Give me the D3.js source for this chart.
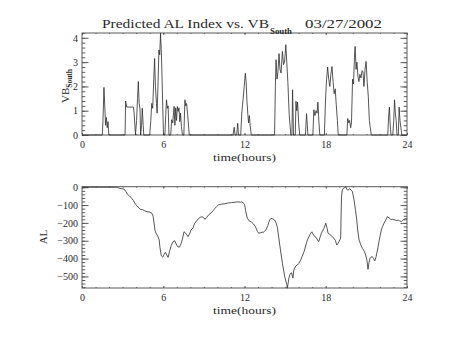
<!DOCTYPE html>
<html>
<head>
<meta charset="utf-8">
<script src="https://cdn.jsdelivr.net/npm/d3@7"></script>
<style>
  html, body { margin: 0; padding: 0; background: #fff; }
  svg { display: block; }
  text { font-family: "Liberation Serif", "DejaVu Serif", serif; fill: #2a2a2a; }
</style>
</head>
<body>
<svg id="chart" width="453" height="340"></svg>
<script>
// VB South (nT) against time of day
const vbHours = [
  0, 1.5, 1.55, 1.62, 1.68, 1.74, 1.8, 1.86, 1.92, 1.98,
  3.18, 3.22, 3.3, 3.8, 3.85, 3.95, 4.03, 4.1, 4.16, 4.22, 4.28, 4.33, 4.4, 4.45, 4.52, 4.56,
  5.0, 5.08, 5.15, 5.22, 5.3, 5.36, 5.42, 5.5, 5.55, 5.62, 5.68, 5.74, 5.8, 5.86, 5.9, 5.96, 6.02,
  6.12, 6.18, 6.24, 6.3, 6.36, 6.42, 6.55, 6.62, 6.7, 6.8, 6.86, 6.92, 6.98, 7.04, 7.1, 7.16,
  7.22, 7.28, 7.34, 7.42, 7.52, 7.6, 7.66, 7.72, 7.8, 7.92,
  11.15, 11.24, 11.3, 11.42, 11.5, 11.56, 11.72, 11.8, 11.9, 11.98, 12.06, 12.12, 12.18, 12.24,
  12.3, 12.36, 12.42, 12.5,
  14.22, 14.28, 14.33, 14.4, 14.47, 14.55, 14.62, 14.7, 14.8, 14.88, 14.96, 15.05, 15.12, 15.2,
  15.3, 15.42, 15.5, 15.55, 15.62, 15.75, 15.8, 15.86, 15.92, 16.0, 16.08,
  16.5, 16.58, 16.64, 16.68, 17.05, 17.12, 17.2, 17.28, 17.36, 17.42, 17.5, 17.56,
  17.9, 17.98, 18.06, 18.14, 18.22, 18.3, 18.38, 18.46, 18.54, 18.62, 18.7, 18.78, 18.86, 18.92,
  19.56, 19.62, 19.7, 19.76, 19.84, 19.9, 19.98, 20.05, 20.12, 20.17, 20.24, 20.3, 20.38, 20.45,
  20.52, 20.6, 20.68, 20.75, 20.82, 20.9, 20.98, 21.06, 21.14, 21.22, 21.28, 21.36,
  22.58, 22.64, 22.7, 22.76, 22.82, 22.95, 23.02, 23.08, 23.14, 23.2, 23.26, 23.36, 23.42, 23.48,
  23.55, 23.62, 24
];
const vbValues = [
  0, 0, 0.6, 1.96, 1.2, 0.4, 0.72, 0.3, 0.55, 0,
  0, 1.4, 1.15, 1.15, 0.9, 0, 0.6, 1.5, 2.2, 1.3, 1.1, 0, 0.4, 1.1, 0.4, 0,
  0, 0.6, 1.3, 1.1, 2.3, 3.15, 2.0, 1.3, 0.9, 2.2, 3.5, 3.3, 4.2, 3.4, 2.6, 1.2, 0,
  0, 0.8, 1.45, 1.1, 1.2, 0, 0, 0.63, 0.5, 1.18, 0.4, 1.12, 0.6, 1.17, 0.97, 1.12,
  0.55, 0.9, 0.35, 0, 0, 1.45, 1.2, 1.3, 0.85, 0,
  0, 0.32, 0, 0, 0.48, 0, 0, 0.9, 1.5, 2.0, 2.54, 2.2, 1.4, 0.9,
  0.5, 0.8, 0.4, 0,
  0, 2.0, 3.1, 2.3, 2.6, 3.35, 2.7, 2.55, 3.44, 2.9, 3.0, 3.72, 3.0, 2.2,
  0.84, 0, 0, 1.86, 0, 0, 1.39, 1.0, 1.35, 0.5, 0,
  0, 0.88, 0.4, 0, 0, 1.04, 0.8, 1.0, 0.9, 1.35, 0.5, 0,
  0, 1.4, 2.3, 2.8, 2.3, 2.0, 2.5, 2.82, 2.2, 1.7, 1.9, 1.2, 0.6, 0,
  0, 0.68, 0.5, 0.6, 0.3, 0.5, 2.3, 2.1, 3.2, 3.65, 2.7, 3.0, 2.4, 2.2,
  2.5, 2.35, 2.65, 2.6, 2.0, 2.7, 3.03, 2.2, 1.6, 0.6, 0.35, 0,
  0, 0.77, 1.15, 0.4, 0, 0, 0.6, 1.45, 0.9, 0.6, 0, 0, 1.15, 0.6,
  0.3, 0, 0
];

// Predicted AL index (nT) against time of day
const alHours = [
  0, 2.55, 2.7, 2.9, 3.1, 3.25, 3.35, 3.5, 3.67, 3.8, 3.92, 4.05, 4.16, 4.3, 4.48, 4.65, 4.8, 5.0,
  5.15, 5.25, 5.32, 5.4, 5.5, 5.6, 5.7, 5.76, 5.86, 5.96, 6.06, 6.16, 6.26, 6.36, 6.48, 6.6, 6.72,
  6.85, 6.95, 7.06, 7.2, 7.32, 7.42, 7.53, 7.62, 7.72, 7.83, 7.95, 8.05, 8.2, 8.3, 8.45, 8.62,
  8.75, 8.86, 9.0, 9.08, 9.2, 9.35, 9.55, 9.7, 9.82, 9.95, 10.1, 10.3, 10.54, 10.8, 11.03, 11.3,
  11.52, 11.7, 11.8, 11.9, 12.0, 12.08, 12.2, 12.36, 12.51, 12.65, 12.8, 12.95, 13.05, 13.15,
  13.3, 13.4, 13.5, 13.6, 13.72, 13.85, 13.95, 14.1, 14.23, 14.33, 14.43, 14.62, 14.8, 14.97,
  15.12, 15.16, 15.22, 15.28, 15.35, 15.41, 15.48, 15.53, 15.58, 15.63, 15.7, 15.8, 15.9, 16.0,
  16.15, 16.4, 16.64, 16.89, 16.98, 17.05, 17.19, 17.3, 17.4, 17.48, 17.58, 17.68, 17.87, 18.0,
  18.1, 18.17, 18.3, 18.45, 18.61, 18.72, 18.81, 18.9, 18.98, 19.1, 19.16, 19.22, 19.3, 19.4,
  19.47, 19.55, 19.63, 19.72, 19.79, 19.9, 19.97, 20.09, 20.2, 20.29, 20.36, 20.46, 20.6, 20.71,
  20.85, 20.95, 21.04, 21.12, 21.2, 21.27, 21.35, 21.44, 21.53, 21.62, 21.7, 21.77, 21.85, 21.93,
  22.02, 22.1, 22.2, 22.3, 22.42, 22.55, 22.68, 22.8, 22.95, 23.1, 23.24, 23.35, 23.45, 23.58,
  23.68, 23.78, 23.9, 24.0
];
const alValues = [
  0, 0, -4, -8, -10, -25, -40, -48, -62, -75, -92, -105, -112, -124, -126, -133, -137, -140,
  -145, -162, -200, -245, -262, -275, -295, -340, -385, -392, -378, -365, -380, -393, -355, -325, -305,
  -300, -318, -333, -336, -315, -290, -250, -255, -265, -277, -260, -240, -228, -205, -190, -175,
  -168, -165, -172, -180, -170, -155, -143, -130, -118, -108, -97, -95, -92, -88, -86, -84,
  -82, -84, -82, -88, -95, -130, -172, -190, -195, -205, -220, -247, -258, -256,
  -252, -252, -245, -238, -215, -185, -175, -178, -184, -200, -225, -333, -426, -501,
  -545, -566, -540, -510, -490, -482, -480, -500, -510, -470, -454, -440, -436, -428,
  -408, -361, -296, -258, -250, -262, -277, -283, -296, -305, -280, -258, -230, -202,
  -230, -258, -265, -275, -286, -300, -324, -315, -305, -286, -60, -15, -6, -2,
  3, -10, -17, -8, -10, -18, -25, -71, -130, -183, -240, -296, -325, -342,
  -360, -380, -410, -460, -420, -398, -392, -389, -400, -413, -395, -370, -340, -305,
  -270, -240, -220, -202, -185, -165, -172, -180, -180, -183, -187, -184, -188, -193,
  -185, -180, -176, -178
];

// Axis ticks
const hourTicks = [0, 6, 12, 18, 24];
const hourMinorTicks = d3.range(0, 25, 1);
const vbTicks = [0, 1, 2, 3, 4];
const vbMinorTicks = d3.range(0, 4.2001, 0.2);
const alTicks = [0, -100, -200, -300, -400, -500];
const alMinorTicks = d3.range(0, -565, -20);

const titleMain = "Predicted AL Index vs. VB";
const titleSub = "South";
const titleDate = "03/27/2002";
const xTitle = "time(hours)";

const svg = d3.select("#chart");
const left = 82, right = 407;
const axisColor = "#5a5a5a";

function fmtTick(d) {
  return d < 0 ? "\u2212" + Math.abs(d) : String(d);
}

function panel(opts) {
  const { top, bottom, yDomain, yMajor, yMinor, hours, values } = opts;
  const x = d3.scaleLinear().domain([0, 24]).range([left, right]);
  const y = d3.scaleLinear().domain(yDomain).range([bottom, top]);
  const g = svg.append("g");
  const xlen = 2, ylen = 6.5;

  const styleAxis = sel => {
    sel.select(".domain").remove();
    sel.selectAll(".tick line").attr("stroke", axisColor);
    sel.selectAll("text")
      .attr("font-family", '"Liberation Serif", serif')
      .attr("font-size", 10)
      .attr("fill", "#2a2a2a");
  };

  // bottom x axis with labels
  g.append("g").attr("transform", `translate(0,${bottom})`)
    .call(d3.axisBottom(x).tickValues(hourTicks).tickSize(-xlen).tickPadding(6.2).tickFormat(fmtTick))
    .call(styleAxis);
  g.append("g").attr("transform", `translate(0,${bottom})`)
    .call(d3.axisBottom(x).tickValues(hourMinorTicks).tickSize(-xlen / 2).tickFormat(""))
    .call(styleAxis);
  // top x axis, ticks only
  g.append("g").attr("transform", `translate(0,${top})`)
    .call(d3.axisTop(x).tickValues(hourTicks).tickSize(-xlen).tickFormat(""))
    .call(styleAxis);
  g.append("g").attr("transform", `translate(0,${top})`)
    .call(d3.axisTop(x).tickValues(hourMinorTicks).tickSize(-xlen / 2).tickFormat(""))
    .call(styleAxis);
  // left y axis with labels
  g.append("g").attr("transform", `translate(${left},0)`)
    .call(d3.axisLeft(y).tickValues(yMajor).tickSize(-ylen).tickPadding(4).tickFormat(fmtTick))
    .call(styleAxis);
  g.append("g").attr("transform", `translate(${left},0)`)
    .call(d3.axisLeft(y).tickValues(yMinor).tickSize(-ylen / 2).tickFormat(""))
    .call(styleAxis);
  // right y axis, ticks only
  g.append("g").attr("transform", `translate(${right},0)`)
    .call(d3.axisRight(y).tickValues(yMajor).tickSize(-ylen).tickFormat(""))
    .call(styleAxis);
  g.append("g").attr("transform", `translate(${right},0)`)
    .call(d3.axisRight(y).tickValues(yMinor).tickSize(-ylen / 2).tickFormat(""))
    .call(styleAxis);

  // frame
  g.append("rect")
    .attr("x", left).attr("y", top)
    .attr("width", right - left).attr("height", bottom - top)
    .attr("fill", "none").attr("stroke", axisColor).attr("stroke-width", 1);

  // data line
  const pts = hours.map((h, i) => [h, values[i]]);
  g.append("path")
    .datum(pts)
    .attr("fill", "none")
    .attr("stroke", "#2b2b2b")
    .attr("stroke-width", 0.8)
    .attr("d", d3.line().x(d => x(d[0])).y(d => y(d[1])));

  // x axis title
  g.append("text")
    .attr("x", (left + right) / 2).attr("y", bottom + 26)
    .attr("text-anchor", "middle")
    .attr("font-size", 10.5)
    .attr("textLength", 63).attr("lengthAdjust", "spacingAndGlyphs")
    .text(xTitle);

  return { x, y, g };
}

// upper panel: VB South
const p1 = panel({
  top: 33, bottom: 135, yDomain: [0, 4.2],
  yMajor: vbTicks, yMinor: vbMinorTicks,
  hours: vbHours, values: vbValues
});

// lower panel: AL
const p2 = panel({
  top: 186.7, bottom: 288, yDomain: [-565, 3],
  yMajor: alTicks, yMinor: alMinorTicks,
  hours: alHours, values: alValues
});

// title
svg.append("text").attr("x", 102).attr("y", 28)
  .attr("font-size", 11.5).attr("textLength", 167).attr("lengthAdjust", "spacingAndGlyphs")
  .text(titleMain);
svg.append("text").attr("x", 270).attr("y", 33.5)
  .attr("font-size", 7.5).attr("font-weight", "bold")
  .attr("textLength", 22).attr("lengthAdjust", "spacingAndGlyphs")
  .text(titleSub);
svg.append("text").attr("x", 305).attr("y", 28)
  .attr("font-size", 11.5).attr("textLength", 77).attr("lengthAdjust", "spacingAndGlyphs")
  .text(titleDate);

// y axis titles
const vbLabel = svg.append("text")
  .attr("transform", "translate(69,86) rotate(-90)")
  .attr("text-anchor", "middle")
  .attr("font-size", 11);
vbLabel.append("tspan").text("VB");
vbLabel.append("tspan").attr("dy", 3).attr("font-size", 7.5).attr("font-weight", "bold").text("South");

svg.append("text")
  .attr("transform", "translate(47,237) rotate(-90)")
  .attr("text-anchor", "middle")
  .attr("font-size", 11)
  .text("AL");
</script>
</body>
</html>
